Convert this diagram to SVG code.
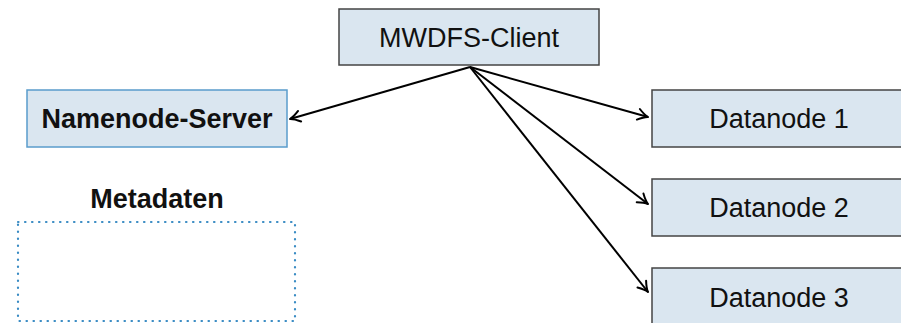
<svg xmlns="http://www.w3.org/2000/svg" width="901" height="323" viewBox="0 0 901 323">
<style>
.box{fill:#dae6f0;stroke:#444;stroke-width:1.5}
.nbox{fill:#dae6f0;stroke:#5a9ccc;stroke-width:1.5}
.t{font-family:"Liberation Sans",Arial,sans-serif;font-size:27px;fill:#111;text-anchor:middle}
.b{font-weight:bold}
.c{stroke:#000;stroke-width:2;fill:none;marker-end:url(#ah)}
</style>
<defs>
<marker id="ah" markerWidth="14" markerHeight="14" viewBox="-12 -7 14 14" refX="0" refY="0" orient="auto" markerUnits="userSpaceOnUse">
<path d="M-10,-5.5 Q-4,-1 0,0 Q-4,1 -10,5.5" fill="none" stroke="#000" stroke-width="2" stroke-linecap="round" stroke-linejoin="round"/>
</marker>
</defs>
<g id="client"><rect class="box" x="339" y="9" width="260" height="56"/><text class="t" x="469" y="47">MWDFS-Client</text></g>
<g id="namenode"><rect class="nbox" x="27" y="90" width="260" height="57"/><text class="t b" x="157" y="128">Namenode-Server</text></g>
<g id="metadaten"><text class="t b" x="157" y="208">Metadaten</text><rect x="18" y="222" width="277" height="99" fill="none" stroke="#3a8cc4" stroke-width="2.2" stroke-dasharray="0.5 6.5" stroke-linecap="round"/></g>
<g id="dn1"><rect class="box" x="652" y="90" width="262" height="57"/><text class="t" x="779" y="128">Datanode 1</text></g>
<g id="dn2"><rect class="box" x="652" y="179" width="262" height="57"/><text class="t" x="779" y="217">Datanode 2</text></g>
<g id="dn3"><rect class="box" x="652" y="268" width="262" height="57"/><text class="t" x="779" y="307">Datanode 3</text></g>
<g id="connectors">
<line class="c" x1="470" y1="67" x2="290" y2="119"/>
<line class="c" x1="470" y1="67" x2="648" y2="117"/>
<line class="c" x1="470" y1="67" x2="648" y2="204"/>
<line class="c" x1="470" y1="67" x2="648" y2="292"/>
</g>
</svg>
